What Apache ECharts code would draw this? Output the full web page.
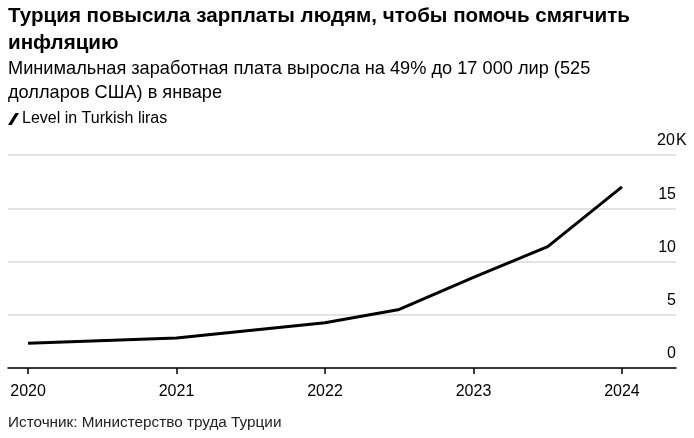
<!DOCTYPE html>
<html><head><meta charset="utf-8">
<script src="https://cdn.jsdelivr.net/npm/echarts@6/dist/echarts.min.js"></script>
<style>html,body{margin:0;padding:0;background:#fff}#c{width:694px;height:438px}</style>
</head><body><div id="c"></div>
<script>
const periods = [2020, 2021, 2022, 2022.5, 2023, 2023.5, 2024];
const wages = [2324.7, 2825.9, 4253.4, 5500.35, 8506.8, 11402.32, 17002.12];
const yearTicks = [2020, 2021, 2022, 2023, 2024];
const seriesName = 'Level in Turkish liras';
const FONT = '"Liberation Sans", Arial, sans-serif';

const chart = echarts.init(document.getElementById('c'));
chart.setOption({
  animation: false,
  backgroundColor: '#fff',
  textStyle: { fontFamily: FONT },
  title: [
    { text: 'Турция повысила зарплаты людям, чтобы помочь смягчить\nинфляцию', left: 8, top: 3, padding: 0,
      textStyle: { fontFamily: FONT, fontSize: 20.6, fontWeight: 'bold', color: '#000', lineHeight: 27 } },
    { text: 'Минимальная заработная плата выросла на 49% до 17 000 лир (525\nдолларов США) в январе', left: 8, top: 57, padding: 0,
      textStyle: { fontFamily: FONT, fontSize: 18.2, fontWeight: 'normal', color: '#000', lineHeight: 24 } },
    { text: 'Источник: Министерство труда Турции', left: 8, top: 415, padding: 0,
      textStyle: { fontFamily: FONT, fontSize: 15.3, fontWeight: 'normal', color: '#222' } }
  ],
  legend: {
    left: 8, top: 111, padding: 0, itemWidth: 11, itemHeight: 13, itemGap: 5,
    icon: 'path://M0,10 L6,0 L9,0 L3,10 Z',
    textStyle: { fontFamily: FONT, fontSize: 16, color: '#000', padding: [0, 0, 0, -2] },
    data: [{ name: seriesName, itemStyle: { color: '#000' } }]
  },
  grid: { left: 8, right: 18, top: 155, bottom: 70, outerBoundsMode: 'none' },
  xAxis: {
    type: 'value', min: 2019.865, max: 2024.364,
    axisLine: { show: true, lineStyle: { color: '#000', width: 1.5 } },
    axisTick: { show: true, customValues: yearTicks, length: 6, lineStyle: { color: '#000', width: 1.5 } },
    axisLabel: { customValues: yearTicks, formatter: v => String(Math.round(v)), margin: 16,
      fontFamily: FONT, fontSize: 16, color: '#000' },
    splitLine: { show: false }
  },
  yAxis: {
    type: 'value', position: 'right', min: 0, max: 20000, interval: 5000,
    axisLine: { show: false }, axisTick: { show: false },
    splitLine: { show: true, lineStyle: { color: '#e3e3e3', width: 2 } },
    axisLabel: {
      inside: true, margin: 20, align: 'left', verticalAlign: 'bottom', padding: [0, 0, 6, 0],
      fontFamily: FONT, fontSize: 16, color: '#000',
      formatter: v => v === 20000 ? '{n|20}K' : '{n|' + (v / 1000) + '}',
      rich: { n: { width: 20, align: 'right', fontFamily: FONT, fontSize: 16, color: '#000' } }
    }
  },
  series: [{
    name: seriesName, type: 'line', showSymbol: false, symbol: 'none',
    data: periods.map((p, i) => [p, wages[i]]),
    lineStyle: { color: '#000', width: 3 }, itemStyle: { color: '#000' }
  }]
});
</script></body></html>
